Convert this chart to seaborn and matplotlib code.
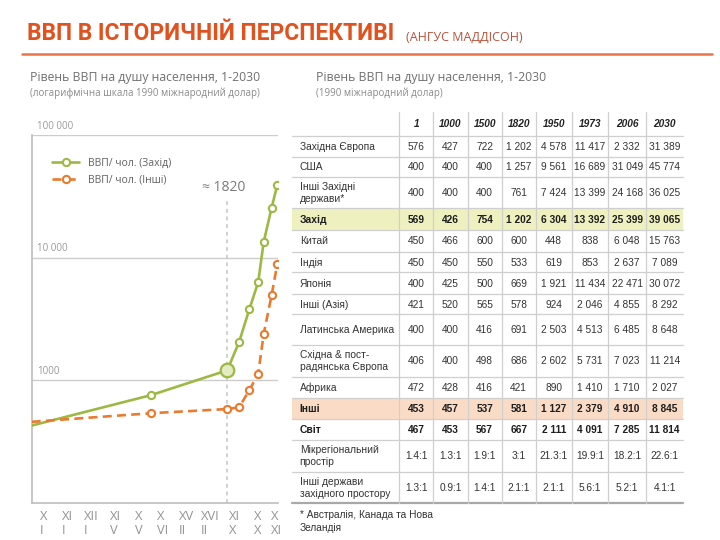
import numpy as np
import pandas as pd
import matplotlib
matplotlib.use("Agg")
import matplotlib.pyplot as plt
import matplotlib.transforms as mtrans
from matplotlib.lines import Line2D
from matplotlib.patches import Rectangle
from matplotlib.ticker import NullLocator, FixedLocator, NullFormatter, FixedFormatter
import seaborn as sns

# ---------------- data ----------------
years = [1000, 1500, 1820, 1870, 1913, 1950, 1973, 2006, 2030]
gdp_west = [426, 754, 1202, 2050, 3800, 6304, 13392, 25399, 39065]
gdp_rest = [457, 537, 581, 600, 830, 1127, 2379, 4910, 8845]
series_names = ["ВВП/ чол. (Захід)", "ВВП/ чол. (Інші)"]
highlight_year = 1820
century_labels = ["X\nI", "XI\nI", "XII\nI", "XI\nV", "X\nV", "X\nVI",
                  "XV\nII", "XVI\nII", "XI\nX", "X\nX", "X\nXI"]
ytick_values = [1000, 10000, 100000]
ytick_labels = ["1000", "10 000", "100 000"]

table_cols = ["1", "1000", "1500", "1820", "1950", "1973", "2006", "2030"]
row_labels = ["Західна Європа", "США", "Інші Західні\nдержави*", "Захід", "Китай",
              "Індія", "Японія", "Інші (Азія)", "Латинська Америка",
              "Східна & пост-\nрадянська Європа", "Африка", "Інші", "Світ",
              "Мікрегіональний\nпростір", "Інші держави\nзахідного простору"]
row_west_europe = ["576", "427", "722", "1 202", "4 578", "11 417", "2 332", "31 389"]
row_usa = ["400", "400", "400", "1 257", "9 561", "16 689", "31 049", "45 774"]
row_other_west = ["400", "400", "400", "761", "7 424", "13 399", "24 168", "36 025"]
row_west = ["569", "426", "754", "1 202", "6 304", "13 392", "25 399", "39 065"]
row_china = ["450", "466", "600", "600", "448", "838", "6 048", "15 763"]
row_india = ["450", "450", "550", "533", "619", "853", "2 637", "7 089"]
row_japan = ["400", "425", "500", "669", "1 921", "11 434", "22 471", "30 072"]
row_other_asia = ["421", "520", "565", "578", "924", "2 046", "4 855", "8 292"]
row_latam = ["400", "400", "416", "691", "2 503", "4 513", "6 485", "8 648"]
row_east_europe = ["406", "400", "498", "686", "2 602", "5 731", "7 023", "11 214"]
row_africa = ["472", "428", "416", "421", "890", "1 410", "1 710", "2 027"]
row_rest = ["453", "457", "537", "581", "1 127", "2 379", "4 910", "8 845"]
row_world = ["467", "453", "567", "667", "2 111", "4 091", "7 285", "11 814"]
row_interregional = ["1.4:1", "1.3:1", "1.9:1", "3:1", "21.3:1", "19.9:1", "18.2:1", "22.6:1"]
row_other_west_ratio = ["1.3:1", "0.9:1", "1.4:1", "2.1:1", "2.1:1", "5.6:1", "5.2:1", "4.1:1"]
table_rows = [row_west_europe, row_usa, row_other_west, row_west, row_china, row_india,
              row_japan, row_other_asia, row_latam, row_east_europe, row_africa,
              row_rest, row_world, row_interregional, row_other_west_ratio]
bold_rows = ["Захід", "Інші", "Світ"]
row_fill = {"Захід": "#EEF0C0", "Інші": "#FADCC6"}

# ---------------- style ----------------
sns.set_style("white")
FONT = ["Open Sans", "DejaVu Sans"]
plt.rcParams["font.family"] = FONT
GREEN = "#9DB843"
ORANGE = "#EB7A2E"
TITLE_C = "#E2521E"

W, H = 720, 540
fig = plt.figure(figsize=(7.2, 5.4), dpi=100)

def px(x0, y0, x1, y1):
    return [x0 / W, 1 - y1 / H, (x1 - x0) / W, (y1 - y0) / H]

# ---------------- line chart ----------------
ax = fig.add_axes(px(31.7, 135, 278, 502.7))
df = pd.DataFrame({
    "year": years * 2,
    "gdp": gdp_west + gdp_rest,
    "series": [series_names[0]] * len(years) + [series_names[1]] * len(years),
})
sns.lineplot(data=df, x="year", y="gdp", hue="series", style="series",
             palette=[GREEN, ORANGE],
             dashes={series_names[0]: "", series_names[1]: (3.4, 2.0)},
             markers={series_names[0]: "o", series_names[1]: "o"},
             markevery=list(range(1, len(years))), markersize=5.2,
             linewidth=1.9, legend=False, ax=ax, zorder=3)
for ln, c in zip(ax.lines, [GREEN, ORANGE]):
    ln.set_markerfacecolor("white")
    ln.set_markeredgecolor(c)
    ln.set_markeredgewidth(1.5)

hi = years.index(highlight_year)
sns.scatterplot(x=[years[hi]], y=[gdp_west[hi]], s=95, color="#E3EBC2",
                edgecolor=GREEN, linewidth=1.6, ax=ax, zorder=4, legend=False)

ax.set_yscale("log")
ax.set_ylim(100, 100000)
ax.set_xlim(1000, 2033)
ax.yaxis.set_major_locator(FixedLocator(ytick_values))
ax.yaxis.set_minor_locator(NullLocator())
ax.yaxis.set_major_formatter(NullFormatter())
ax.tick_params(axis="y", length=0)
ax.grid(axis="y", color="#CCCCCC", linewidth=1.0)
ax.set_axisbelow(True)
ax.set_xlabel("")
ax.set_ylabel("")
for side in ["top", "right"]:
    ax.spines[side].set_visible(False)
for side in ["left", "bottom"]:
    ax.spines[side].set_color("#BDBDBD")
    ax.spines[side].set_linewidth(1.2)

blend = mtrans.blended_transform_factory(ax.transAxes, ax.transData)
for v, lab in zip(ytick_values, ytick_labels):
    ax.annotate(lab, xy=(0.022, v), xycoords=blend, xytext=(0, 2.5),
                textcoords="offset points", ha="left", va="bottom",
                fontsize=7, color="#9A9A9A")

centuries = np.arange(1000, 2001, 100)
label_pos = list(centuries[:-1] + 50) + [2028]
ax.xaxis.set_major_locator(FixedLocator(centuries))
ax.xaxis.set_major_formatter(NullFormatter())
ax.xaxis.set_minor_locator(FixedLocator(label_pos))
ax.xaxis.set_minor_formatter(FixedFormatter(century_labels))
ax.tick_params(axis="x", which="major", length=4, width=1.2, color="#BDBDBD", direction="out")
ax.tick_params(axis="x", which="minor", length=0, pad=5.5, labelsize=9.3, labelcolor="#939393")
for t in ax.xaxis.get_minorticklabels():
    t.set_multialignment("left")
    t.set_linespacing(1.05)

ax.axvline(highlight_year, ymin=0, ymax=0.83, color="#C4C4C4", lw=1.1,
           ls=(0, (2.5, 2.5)), zorder=1)
ax.text(highlight_year - 15, 0.858, "≈ 1820", transform=mtrans.blended_transform_factory(ax.transData, ax.transAxes),
        ha="center", va="center", fontsize=10, color="#7A7A7A",
        family=["Open Sans", "DejaVu Sans"])

handles = [
    Line2D([], [], color=GREEN, lw=1.9, marker="o", markersize=5.2,
           markerfacecolor="white", markeredgecolor=GREEN, markeredgewidth=1.5),
    Line2D([], [], color=ORANGE, lw=1.9, ls=(0, (3.4, 2.0)), marker="o", markersize=5.2,
           markerfacecolor="white", markeredgecolor=ORANGE, markeredgewidth=1.5),
]
ax.legend(handles, series_names, loc="upper left", bbox_to_anchor=(0.066, 0.95),
          frameon=False, fontsize=7.5, handlelength=2.6, handletextpad=0.8,
          labelspacing=0.6, borderaxespad=0, labelcolor="#606060")

# ---------------- overlay (titles + table) ----------------
ov = fig.add_axes([0, 0, 1, 1])
ov.set_xlim(0, W)
ov.set_ylim(H, 0)
ov.axis("off")
ov.patch.set_alpha(0)

ov.text(27, 40, "ВВП В ІСТОРИЧНІЙ ПЕРСПЕКТИВІ", fontsize=16.4, fontweight="bold",
        color=TITLE_C, ha="left", va="baseline", family=["Roboto", "DejaVu Sans"])
ov.text(406, 40.5, "(АНГУС МАДДІСОН)", fontsize=9, color="#B9513A",
        ha="left", va="baseline")
ov.plot([22, 712], [53.5, 53.5], color="#E8744A", lw=1.8)

ov.text(30, 77, "Рівень ВВП на душу населення, 1-2030", fontsize=8.8, color="#707070",
        ha="left", va="center")
ov.text(30, 93, "(логарифмічна шкала 1990 міжнародний долар)", fontsize=7, color="#8A8A8A",
        ha="left", va="center")
ov.text(316, 77, "Рівень ВВП на душу населення, 1-2030", fontsize=8.8, color="#707070",
        ha="left", va="center")
ov.text(316, 93, "(1990 міжнародний долар)", fontsize=7, color="#8A8A8A",
        ha="left", va="center")

# table geometry (pixels)
TFONT = ["Liberation Sans", "DejaVu Sans"]
col_edges = [291.7, 399.3, 433.3, 467.7, 501.7, 535.7, 571.7, 608.3, 646.0, 683.3]
row_edges = [112, 135.7, 157.3, 176.7, 208.3, 230, 251.7, 272.3, 294.3, 314,
             345, 376.7, 398.3, 418.7, 440, 471.7, 503.3]

for i, lab in enumerate(row_labels):
    y0, y1 = row_edges[i + 1], row_edges[i + 2]
    if lab in row_fill:
        ov.add_patch(Rectangle((col_edges[0], y0), col_edges[-1] - col_edges[0], y1 - y0,
                               facecolor=row_fill[lab], edgecolor="none", zorder=0))

for j, c in enumerate(table_cols):
    xc = (col_edges[j + 1] + col_edges[j + 2]) / 2
    ov.text(xc, (row_edges[0] + row_edges[1]) / 2 + 0.5, c, ha="center", va="center",
            fontsize=7.3, fontweight="bold", fontstyle="italic", color="#222222",
            family=TFONT)

for i, (lab, vals) in enumerate(zip(row_labels, table_rows)):
    y0, y1 = row_edges[i + 1], row_edges[i + 2]
    yc = (y0 + y1) / 2 + 0.5
    bold = lab in bold_rows
    fw = "bold" if bold else "normal"
    col = "#1E1E1E" if bold else "#333333"
    ov.text(col_edges[0] + 8, yc, lab, ha="left", va="center", fontsize=7.4,
            fontweight=fw, color=col, linespacing=1.25, family=TFONT)
    for j, v in enumerate(vals):
        xc = (col_edges[j + 1] + col_edges[j + 2]) / 2
        ov.text(xc, yc, v, ha="center", va="center", fontsize=7.3,
                fontweight=fw, color=col, family=TFONT)

for y in row_edges[1:-1]:
    ov.plot([col_edges[0], col_edges[-1]], [y, y], color="#CFCFCF", lw=0.9, zorder=1)
ov.plot([col_edges[0], col_edges[-1]], [row_edges[-1], row_edges[-1]],
        color="#A8A8A8", lw=1.6, zorder=1)
for x in col_edges[1:-1]:
    ov.plot([x, x], [row_edges[0], row_edges[-1]], color="#CFCFCF", lw=0.9, zorder=1)

ov.text(300, 515, "* Австралія, Канада та Нова", fontsize=7.3, color="#333333",
        ha="left", va="center", family=TFONT)
ov.text(300, 528, "Зеландія", fontsize=7.3, color="#333333",
        ha="left", va="center", family=TFONT)

fig.savefig("out.png", dpi=100)
